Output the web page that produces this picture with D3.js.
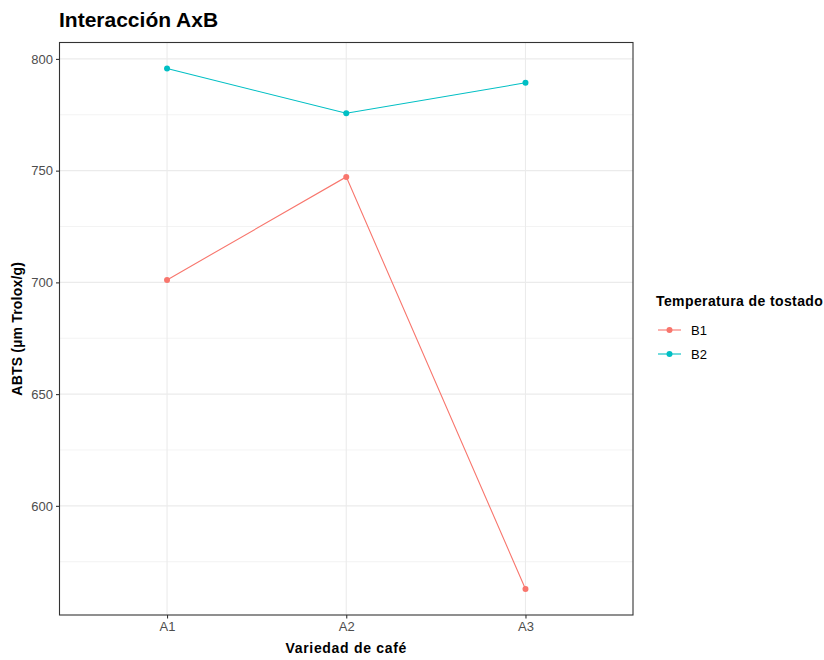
<!DOCTYPE html>
<html>
<head>
<meta charset="utf-8">
<script src="https://cdn.jsdelivr.net/npm/d3@7"></script>
<style>
  body { margin: 0; background: #fff; }
  svg { display: block; font-family: "Liberation Sans", Arial, sans-serif; }
</style>
</head>
<body>
<svg id="chart" width="824" height="660"></svg>
<script>
// Varieties of coffee (factor A) and roasting temperatures (factor B)
const categories = ["A1", "A2", "A3"];
const seriesNames = ["B1", "B2"];
const valuesB1 = [701.1, 747.2, 562.8];
const valuesB2 = [795.7, 775.7, 789.3];
const yTicks = [600, 650, 700, 750, 800];
const yMinor = [575, 625, 675, 725, 775];
const colors = ["#F8766D", "#00BFC4"];

const series = [
  { name: seriesNames[0], values: valuesB1, color: colors[0] },
  { name: seriesNames[1], values: valuesB2, color: colors[1] }
];

const svg = d3.select("#chart");
const panel = { left: 59.5, right: 633, top: 42.5, bottom: 615 };

// Discrete x scale with 0.6 unit padding on each side
const x = d3.scalePoint().domain(categories)
  .range([panel.left, panel.right]).padding(0.6);

const allVals = valuesB1.concat(valuesB2);
const lo = d3.min(allVals), hi = d3.max(allVals), span = hi - lo;
const y = d3.scaleLinear().domain([lo - 0.05 * span, hi + 0.05 * span])
  .range([panel.bottom, panel.top]);

const g = svg.append("g");

// Minor grid
g.selectAll(".minor").data(yMinor.filter(v => v > y.domain()[0] && v < y.domain()[1]))
  .enter().append("line")
  .attr("x1", panel.left).attr("x2", panel.right)
  .attr("y1", d => y(d)).attr("y2", d => y(d))
  .attr("stroke", "#ebebeb").attr("stroke-width", 0.6);

// Major grid
g.selectAll(".majorY").data(yTicks).enter().append("line")
  .attr("x1", panel.left).attr("x2", panel.right)
  .attr("y1", d => y(d)).attr("y2", d => y(d))
  .attr("stroke", "#ebebeb").attr("stroke-width", 1.1);
g.selectAll(".majorX").data(categories).enter().append("line")
  .attr("x1", d => x(d)).attr("x2", d => x(d))
  .attr("y1", panel.top).attr("y2", panel.bottom)
  .attr("stroke", "#ebebeb").attr("stroke-width", 1.1);

// Lines and points
const line = d3.line().x((d, i) => x(categories[i])).y(d => y(d));
series.forEach(s => {
  g.append("path").datum(s.values)
    .attr("d", line).attr("fill", "none")
    .attr("stroke", s.color).attr("stroke-width", 1.1);
  g.selectAll(null).data(s.values).enter().append("circle")
    .attr("cx", (d, i) => x(categories[i])).attr("cy", d => y(d))
    .attr("r", 3).attr("fill", s.color);
});

// Panel border
g.append("rect")
  .attr("x", panel.left).attr("y", panel.top)
  .attr("width", panel.right - panel.left).attr("height", panel.bottom - panel.top)
  .attr("fill", "none").attr("stroke", "#333333").attr("stroke-width", 1.1);

// Axes
const yAxis = d3.axisLeft(y).tickValues(yTicks).tickSize(3.5).tickPadding(3);
const xAxis = d3.axisBottom(x).tickSize(3.5).tickPadding(3);

const ya = svg.append("g").attr("transform", `translate(${panel.left},0)`).call(yAxis);
const xa = svg.append("g").attr("transform", `translate(0,${panel.bottom})`).call(xAxis);
[ya, xa].forEach(a => {
  a.select(".domain").remove();
  a.selectAll(".tick line").attr("stroke", "#333333").attr("stroke-width", 1.1);
  a.selectAll(".tick text").attr("fill", "#4d4d4d")
    .style("font-size", "13px").style("font-family", "Liberation Sans, Arial, sans-serif");
});

// Titles
svg.append("text").attr("x", 59).attr("y", 27)
  .attr("font-size", "21px").attr("font-weight", "bold").attr("fill", "#000")
  .text("Interacción AxB");

svg.append("text").attr("x", (panel.left + panel.right) / 2).attr("y", 653)
  .attr("text-anchor", "middle").attr("font-size", "14px").attr("font-weight", "bold")
  .attr("letter-spacing", "0.7px")
  .text("Variedad de café");

svg.append("text")
  .attr("transform", `translate(22,${(panel.top + panel.bottom) / 2}) rotate(-90)`)
  .attr("text-anchor", "middle").attr("font-size", "14px").attr("font-weight", "bold")
  .attr("letter-spacing", "0.2px")
  .text("ABTS (µm Trolox/g)");

// Legend
const legend = svg.append("g").attr("transform", "translate(656,0)");
legend.append("text").attr("x", 0).attr("y", 306)
  .attr("font-size", "14px").attr("font-weight", "bold").attr("letter-spacing", "0.4px")
  .text("Temperatura de tostado");
series.forEach((s, i) => {
  const cy = 330 + i * 24;
  legend.append("line").attr("x1", 2).attr("x2", 25).attr("y1", cy).attr("y2", cy)
    .attr("stroke", s.color).attr("stroke-width", 1.1);
  legend.append("circle").attr("cx", 13.5).attr("cy", cy).attr("r", 3).attr("fill", s.color);
  legend.append("text").attr("x", 35).attr("y", cy + 5)
    .attr("font-size", "13px").attr("fill", "#000").text(s.name);
});
</script>
</body>
</html>
